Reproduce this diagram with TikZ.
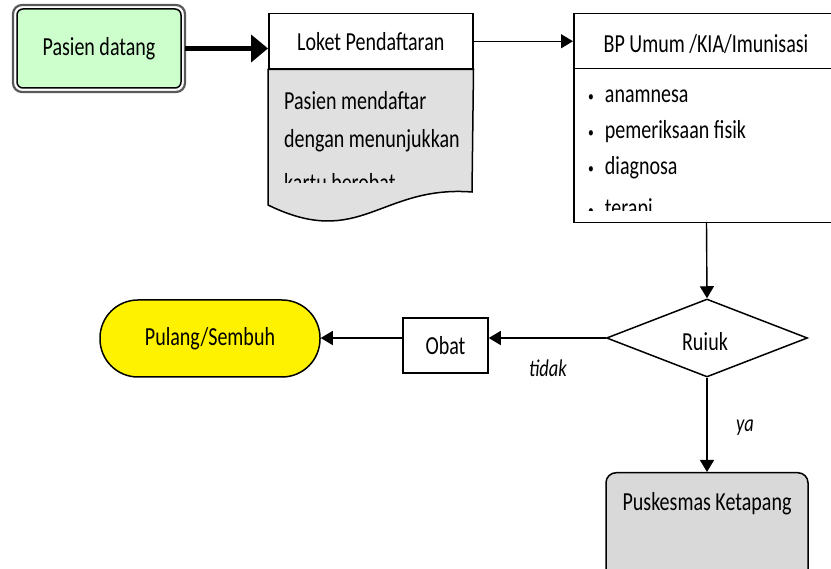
\documentclass[tikz,border=0pt]{standalone}
\usepackage{fontspec}
\setmainfont[FakeStretch=0.77]{Carlito}
\usetikzlibrary{arrows.meta,shapes.geometric}
\definecolor{greenfill}{HTML}{CCFFCC}
\definecolor{docgray}{HTML}{E0E0E0}
\definecolor{termgray}{HTML}{D9D9D9}
\newcommand\bigf{\fontsize{26}{30}\selectfont}
\newcommand\lblf{\fontsize{24}{28}\selectfont\itshape}
\newcommand\smbul{\raisebox{1pt}{\fontsize{15}{15}\selectfont\textbullet}\hspace{11pt}}
\tikzset{
  conn/.style={line width=1.4pt,-{Triangle[length=12pt,width=14pt]}},
  boxline/.style={draw,line width=1.5pt},
  txt/.style={font=\bigf,inner sep=0pt},
}
\begin{document}
\begin{tikzpicture}[x=1pt,y=-1pt]
\useasboundingbox[fill=white] (0,0) rectangle (831,569);

% Pasien datang (double border)
\draw[draw=black!65,line width=2.2pt,rounded corners=9pt] (13,5) rectangle (185,92);
\node[boxline,rounded corners=6pt,fill=greenfill,minimum width=164pt,minimum height=79pt,font=\bigf] (pasien) at (99,48.5) {Pasien datang};

% Loket Pendaftaran
\node[boxline,fill=white,minimum width=204pt,minimum height=55pt,font=\bigf,anchor=north west] (loket) at (268,13) {Loket Pendaftaran};
\draw[line width=1.5pt,fill=docgray] (loket.south east) -- (472,192)
  .. controls (380,185) and (360,250) .. (268,205) -- (loket.south west) -- cycle;
\node[txt,anchor=base west] (l1) at (284,110) {Pasien mendaftar};
\node[txt,anchor=base west] (l2) at (284,148) {dengan menunjukkan};
\begin{scope}
  \clip (270,160) rectangle (470,182.5);
  \node[txt,anchor=base west] (l3) at (284,192) {kartu berobat};
\end{scope}

% BP Umum box
\node[boxline,fill=white,minimum width=267pt,minimum height=55pt,anchor=north west] (bp) at (573,13) {};
\node[txt] (bptitle) at (706,44) {BP Umum /KIA/Imunisasi};
\node[boxline,fill=white,minimum width=267pt,minimum height=154pt,anchor=north west] (bpbody) at (573,68) {};
\node[txt,anchor=base west] (b1) at (588,103) {\smbul anamnesa};
\node[txt,anchor=base west] (b2) at (588,139) {\smbul pemeriksaan fisik};
\node[txt,anchor=base west] (b3) at (588,175) {\smbul diagnosa};
\begin{scope}
  \clip (575,190) rectangle (830,211);
  \node[txt,anchor=base west] (b4) at (588,217) {\smbul terapi};
\end{scope}

% Decision
\node[diamond,boxline,fill=white,minimum width=201pt,minimum height=78pt,inner sep=0pt] (rujuk) at (707,338) {};
\begin{scope}
  \clip (650,320) rectangle (760,349.5);
  \node[txt,anchor=base] (rujuktxt) at (705,351) {Rujuk};
\end{scope}

% Obat
\node[boxline,fill=white,minimum width=85pt,minimum height=55pt,font=\bigf] (obat) at (445.5,345.5) {Obat};

% Pulang/Sembuh
\node[boxline,fill=yellow,minimum width=220pt,minimum height=77pt,rounded corners=38pt,font=\bigf] (pulang) at (210,338.5) {Pulang/Sembuh};

% Puskesmas Ketapang
\node[boxline,fill=termgray,minimum width=202pt,minimum height=125pt,rounded corners=10pt,anchor=north] (pusk) at (707,472) {};
\node[txt,anchor=base] (pusktxt) at (707,511) {Puskesmas Ketapang};

% Connectors
\draw[line width=5pt,-{Triangle[length=17pt,width=27pt]}] (pasien.east -| 185,0) -- (loket.west |- pasien.east);
\draw[conn] (loket.east) -- (bp.west);
\draw[conn] (706.5,222) -- (rujuk.north);
\draw[conn] (rujuk.west) -- (rujuk.west -| obat.east);
\draw[conn] (rujuk.west -| obat.west) -- (rujuk.west -| pulang.east);
\draw[conn] (rujuk.south) -- (pusk.north);

% Labels
\node[font=\lblf,inner sep=0pt] (tidak) at (548,368) {tidak};
\node[font=\lblf,inner sep=0pt] (ya) at (745,428) {ya};
\end{tikzpicture}
\end{document}
